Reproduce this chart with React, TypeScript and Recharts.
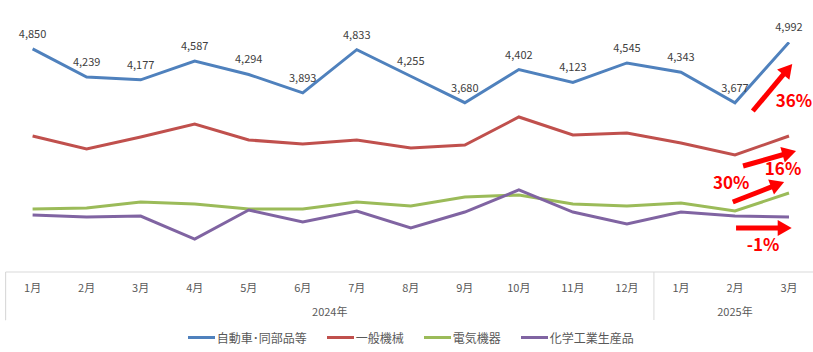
import React from 'react';
import { LineChart, Line, XAxis, YAxis, LabelList, ReferenceLine, ReferenceDot, Legend } from 'recharts';

const FONT = '"Noto Sans CJK JP", "Noto Sans", sans-serif';

const months = ['1月', '2月', '3月', '4月', '5月', '6月', '7月', '8月', '9月', '10月', '11月', '12月', '1月', '2月', '3月'];
const years = ['2024年', '2025年'];
const yearGroupSizes = [12, 3];

const seriesNames = ['自動車･同部品等', '一般機械', '電気機器', '化学工業生産品'];
const seriesColors = ['#4f81bd', '#c0504d', '#9bbb59', '#8064a2'];

const autoParts = [4850, 4239, 4177, 4587, 4294, 3893, 4833, 4255, 3680, 4402, 4123, 4545, 4343, 3677, 4992];
const generalMachinery = [2957, 2674, 2935, 3218, 2870, 2783, 2870, 2696, 2761, 3370, 2978, 3022, 2804, 2544, 2957];
const electrical = [1370, 1391, 1522, 1478, 1370, 1370, 1522, 1435, 1630, 1674, 1478, 1435, 1500, 1326, 1717];
const chemical = [1239, 1196, 1217, 717, 1348, 1087, 1326, 957, 1304, 1783, 1304, 1044, 1304, 1217, 1196];

// annotation arrows (x in month index units, y in value units)
const arrowFrom = [[13.33, 3500], [13.15, 2304], [12.96, 1522], [13.02, 957]];
const arrowTo = [[14.06, 4522], [14.13, 2631], [13.91, 1957], [14.05, 957]];
const arrowLabels = ['36%', '16%', '30%', '-1%'];
const arrowLabelAt = [[14.09, 3718], [13.89, 2239], [12.93, 1935], [13.52, 587]];

const seriesData = [autoParts, generalMachinery, electrical, chemical];
const seriesKeys = ['s0', 's1', 's2', 's3'];

const yearOf: string[] = [];
yearGroupSizes.forEach((n, g) => {
  for (let i = 0; i < n; i++) yearOf.push(years[g]);
});

const data = months.map((m, i) => {
  const row: any = { id: `${yearOf[i]}-${m}`, month: m, idx: i };
  seriesKeys.forEach((k, s) => {
    row[k] = seriesData[s][i];
  });
  return row;
});

// year axis: group boundaries and group centers
const boundaries: number[] = [-0.5];
const centers: number[] = [];
const centerLabel: Record<string, string> = {};
{
  let start = 0;
  yearGroupSizes.forEach((n, g) => {
    const c = start + (n - 1) / 2;
    centers.push(c);
    centerLabel[String(c)] = years[g];
    start += n;
    boundaries.push(start - 0.5);
  });
}
const yearTicks = [...boundaries, ...centers].sort((a, b) => a - b);

const YearTick = (props: any) => {
  const { x, y, payload } = props;
  const v = payload.value;
  const label = centerLabel[String(v)];
  if (label) {
    return (
      <text x={x} y={y + 20} textAnchor="middle" fill="#595959" fontSize={11} fontFamily={FONT}>
        {label}
      </text>
    );
  }
  return <line x1={x} y1={y - 24} x2={x} y2={y + 24} stroke="#d9d9d9" strokeWidth={1} />;
};

const ArrowShape = (p: any) => {
  const { x1, y1, x2, y2 } = p;
  const dx = x2 - x1;
  const dy = y2 - y1;
  const len = Math.hypot(dx, dy) || 1;
  const ux = dx / len;
  const uy = dy / len;
  const head = 14;
  const half = 8;
  const bx = x2 - ux * head;
  const by = y2 - uy * head;
  const px = -uy;
  const py = ux;
  return (
    <g>
      <line x1={x1} y1={y1} x2={bx + ux} y2={by + uy} stroke="#ff0000" strokeWidth={5} />
      <polygon
        points={`${x2},${y2} ${bx + px * half},${by + py * half} ${bx - px * half},${by - py * half}`}
        fill="#ff0000"
      />
    </g>
  );
};

const makeTextShape = (txt: string) => (p: any) => (
  <text
    x={p.cx}
    y={p.cy}
    dy="0.36em"
    textAnchor="middle"
    fill="#ff0000"
    fontSize={17}
    fontWeight={700}
    fontFamily={FONT}
  >
    {txt}
  </text>
);

const renderLegend = () => (
  <div
    style={{
      height: 30,
      display: 'flex',
      justifyContent: 'center',
      alignItems: 'center',
      fontFamily: FONT,
      fontSize: 12,
      color: '#595959',
    }}
  >
    {seriesNames.map((n, i) => (
      <div key={n} style={{ display: 'flex', alignItems: 'center', marginRight: i < seriesNames.length - 1 ? 20 : 0 }}>
        <div style={{ width: 27, height: 3, background: seriesColors[i], marginRight: 2 }} />
        <span>{n}</span>
      </div>
    ))}
  </div>
);

export default function App() {
  return (
    <div
      style={{
        position: 'absolute',
        left: 0,
        top: 0,
        width: 813,
        height: 352,
        overflow: 'hidden',
        background: '#ffffff',
        fontFamily: FONT,
      }}
    >
      <LineChart width={820} height={352} data={data} margin={{ top: 42, right: 4, bottom: 0, left: 5.6 }}>
        <XAxis
          dataKey="id"
          allowDuplicatedCategory
          padding={{ left: 27, right: 27 }}
          tickFormatter={(_v: any, i: number) => months[i]}
          interval={0}
          tickLine={false}
          tickSize={0}
          tickMargin={12}
          height={24}
          axisLine={{ stroke: '#d9d9d9', strokeWidth: 1 }}
          tick={{ fill: '#595959', fontSize: 11, fontFamily: FONT }}
        />
        <XAxis
          xAxisId="yr"
          dataKey="idx"
          type="number"
          domain={[0, 14]}
          padding={{ left: 27, right: 27 }}
          allowDataOverflow
          ticks={yearTicks}
          interval={0}
          tickLine={false}
          axisLine={false}
          tickSize={0}
          tickMargin={0}
          height={26}
          tick={<YearTick />}
        />
        <YAxis hide domain={[0, 5000]} allowDataOverflow />
        <Legend verticalAlign="bottom" content={renderLegend} wrapperStyle={{ height: 30 }} />
        {seriesKeys.map((k, s) => (
          <Line
            key={k}
            dataKey={k}
            name={seriesNames[s]}
            stroke={seriesColors[s]}
            strokeWidth={3}
            dot={false}
            activeDot={false}
            isAnimationActive={false}
          >
            {s === 0 ? (
              <LabelList
                dataKey={k}
                position="top"
                offset={11}
                fill="#404040"
                fontSize={11}
                fontFamily={FONT}
                formatter={(v: any) => Number(v).toLocaleString('en-US')}
              />
            ) : null}
          </Line>
        ))}
        <ReferenceLine
          xAxisId="yr"
          ifOverflow="visible"
          segment={[
            { x: boundaries[0], y: 0 },
            { x: boundaries[0], y: -1050 },
          ]}
          stroke="#d9d9d9"
          strokeWidth={1}
        />
        {arrowFrom.map((f, i) => (
          <ReferenceLine
            key={`a${i}`}
            xAxisId="yr"
            ifOverflow="visible"
            segment={[
              { x: f[0], y: f[1] },
              { x: arrowTo[i][0], y: arrowTo[i][1] },
            ]}
            shape={ArrowShape}
          />
        ))}
        {arrowLabelAt.map((p, i) => (
          <ReferenceDot
            key={`t${i}`}
            xAxisId="yr"
            x={p[0]}
            y={p[1]}
            r={1}
            ifOverflow="visible"
            shape={makeTextShape(arrowLabels[i])}
          />
        ))}
      </LineChart>
    </div>
  );
}
